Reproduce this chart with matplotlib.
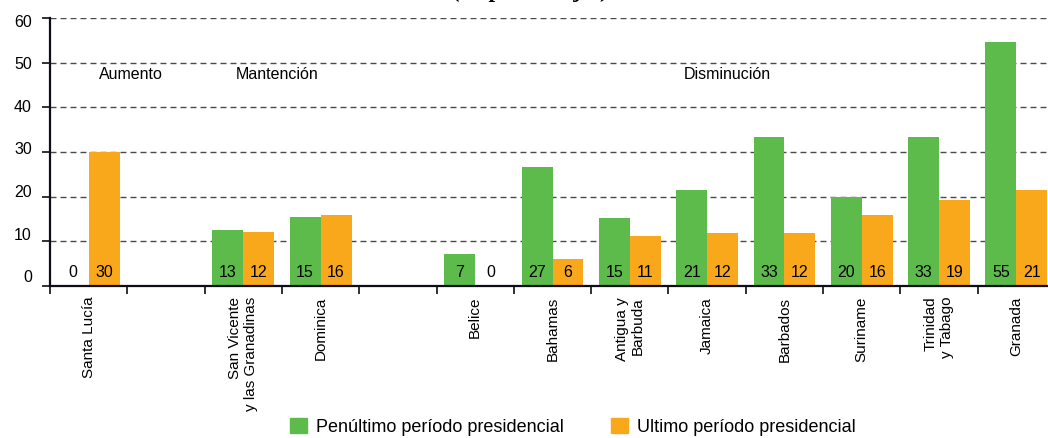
"""
Bar chart: penultimo vs ultimo periodo presidencial (Caribe)
"""

import numpy as np
import matplotlib
matplotlib.use("Agg")
import matplotlib.pyplot as plt
from matplotlib.patches import Patch

# categories, blanks are the gaps between groups
countries = ["Santa Lucía", "", "San Vicente\ny las Granadinas", "Dominica", "",
             "Belice", "Bahamas", "Antigua y\nBarbuda", "Jamaica", "Barbados",
             "Suriname", "Trinidad\ny Tabago", "Granada"]
penultimo = [0, np.nan, 12.6, 15.4, np.nan, 7.1, 26.7, 15.3, 21.4, 33.4, 20.0, 33.4, 54.6]
ultimo = [30.1, np.nan, 12.0, 15.9, np.nan, 0, 5.9, 11.2, 11.8, 11.8, 15.8, 19.2, 21.4]
groups = ["Aumento", "Mantención", "Disminución"]
group_x = [0.55, 2.44, 8.26]
series_names = ["Penúltimo período presidencial", "Ultimo período presidencial"]
yticks = [0, 10, 20, 30, 40, 50, 60]

GREEN = "#5DBB4B"
ORANGE = "#F9A71B"
AXIS = "#0d0d1a"

plt.rcParams["font.family"] = ["Liberation Sans", "DejaVu Sans"]

fig = plt.figure(figsize=(10.48, 4.38), dpi=100)
ax = fig.add_axes([50 / 1048, 152.3 / 438, 1005 / 1048, 267.4 / 438])

x = np.arange(len(countries))
w = 0.4
for i in range(len(countries)):
    if np.isnan(penultimo[i]):
        continue
    ax.bar(x[i] - w / 2, penultimo[i], w, color=GREEN, zorder=2)
    ax.bar(x[i] + w / 2, ultimo[i], w, color=ORANGE, zorder=2)
    ax.text(x[i] - w / 2, 3.0, f"{penultimo[i]:.0f}", ha="center", va="center",
            fontsize=11.5, zorder=3)
    ax.text(x[i] + w / 2, 3.0, f"{ultimo[i]:.0f}", ha="center", va="center",
            fontsize=11.5, zorder=3)

for gx, g in zip(group_x, groups):
    ax.text(gx, 47.5, g, ha="center", va="center", fontsize=11.5)

ax.set_xlim(-0.5, len(countries) - 0.5)
ax.set_ylim(0, 60)

# gridlines and tick marks at the real values
ax.set_yticks(yticks)
ax.set_yticklabels([])
for v in yticks[1:]:
    ax.axhline(v, color="#4a4a4a", lw=1.0, ls=(0, (4.3, 2.9)), zorder=1)
# labels sit a little off the gridlines, as in the original
lab_pos = [59.46 - (60 - v) * 0.955 for v in yticks]
ax.set_yticks(lab_pos, minor=True)
ax.set_yticklabels([str(v) for v in yticks], minor=True, fontsize=11.5)
ax.tick_params(axis="y", which="major", direction="out", length=6, width=1.2, color=AXIS)
ax.tick_params(axis="y", which="minor", length=0, pad=13)

# x: ticks on the slot borders, labels in the middle
ax.set_xticks(np.arange(len(countries) + 1) - 0.5)
ax.set_xticklabels([])
ax.set_xticks(x, minor=True)
ax.set_xticklabels(countries, minor=True, rotation=90, fontsize=11,
                   va="top", ha="center", multialignment="right")
ax.tick_params(axis="x", which="major", direction="out", length=6, width=1.2, color=AXIS)
ax.tick_params(axis="x", which="minor", length=0, pad=8)

for s in ["top", "right"]:
    ax.spines[s].set_visible(False)
for s in ["left", "bottom"]:
    ax.spines[s].set_linewidth(1.6)
    ax.spines[s].set_color(AXIS)
    ax.spines[s].set_zorder(4)

# title, mostly cut off by the top edge
fig.text(0.507, 1.006, "(en porcentajes)", ha="center", va="baseline",
         fontsize=17, family="Liberation Serif", style="italic", weight="bold")

handles = [Patch(color=GREEN), Patch(color=ORANGE)]
fig.legend(handles, series_names, loc="center", bbox_to_anchor=(0.547, 0.025),
           ncol=2, frameon=False, fontsize=13, handlelength=0.9, handleheight=0.9,
           handletextpad=0.55, columnspacing=2.6, borderpad=0)

fig.savefig("out.png", dpi=100)
